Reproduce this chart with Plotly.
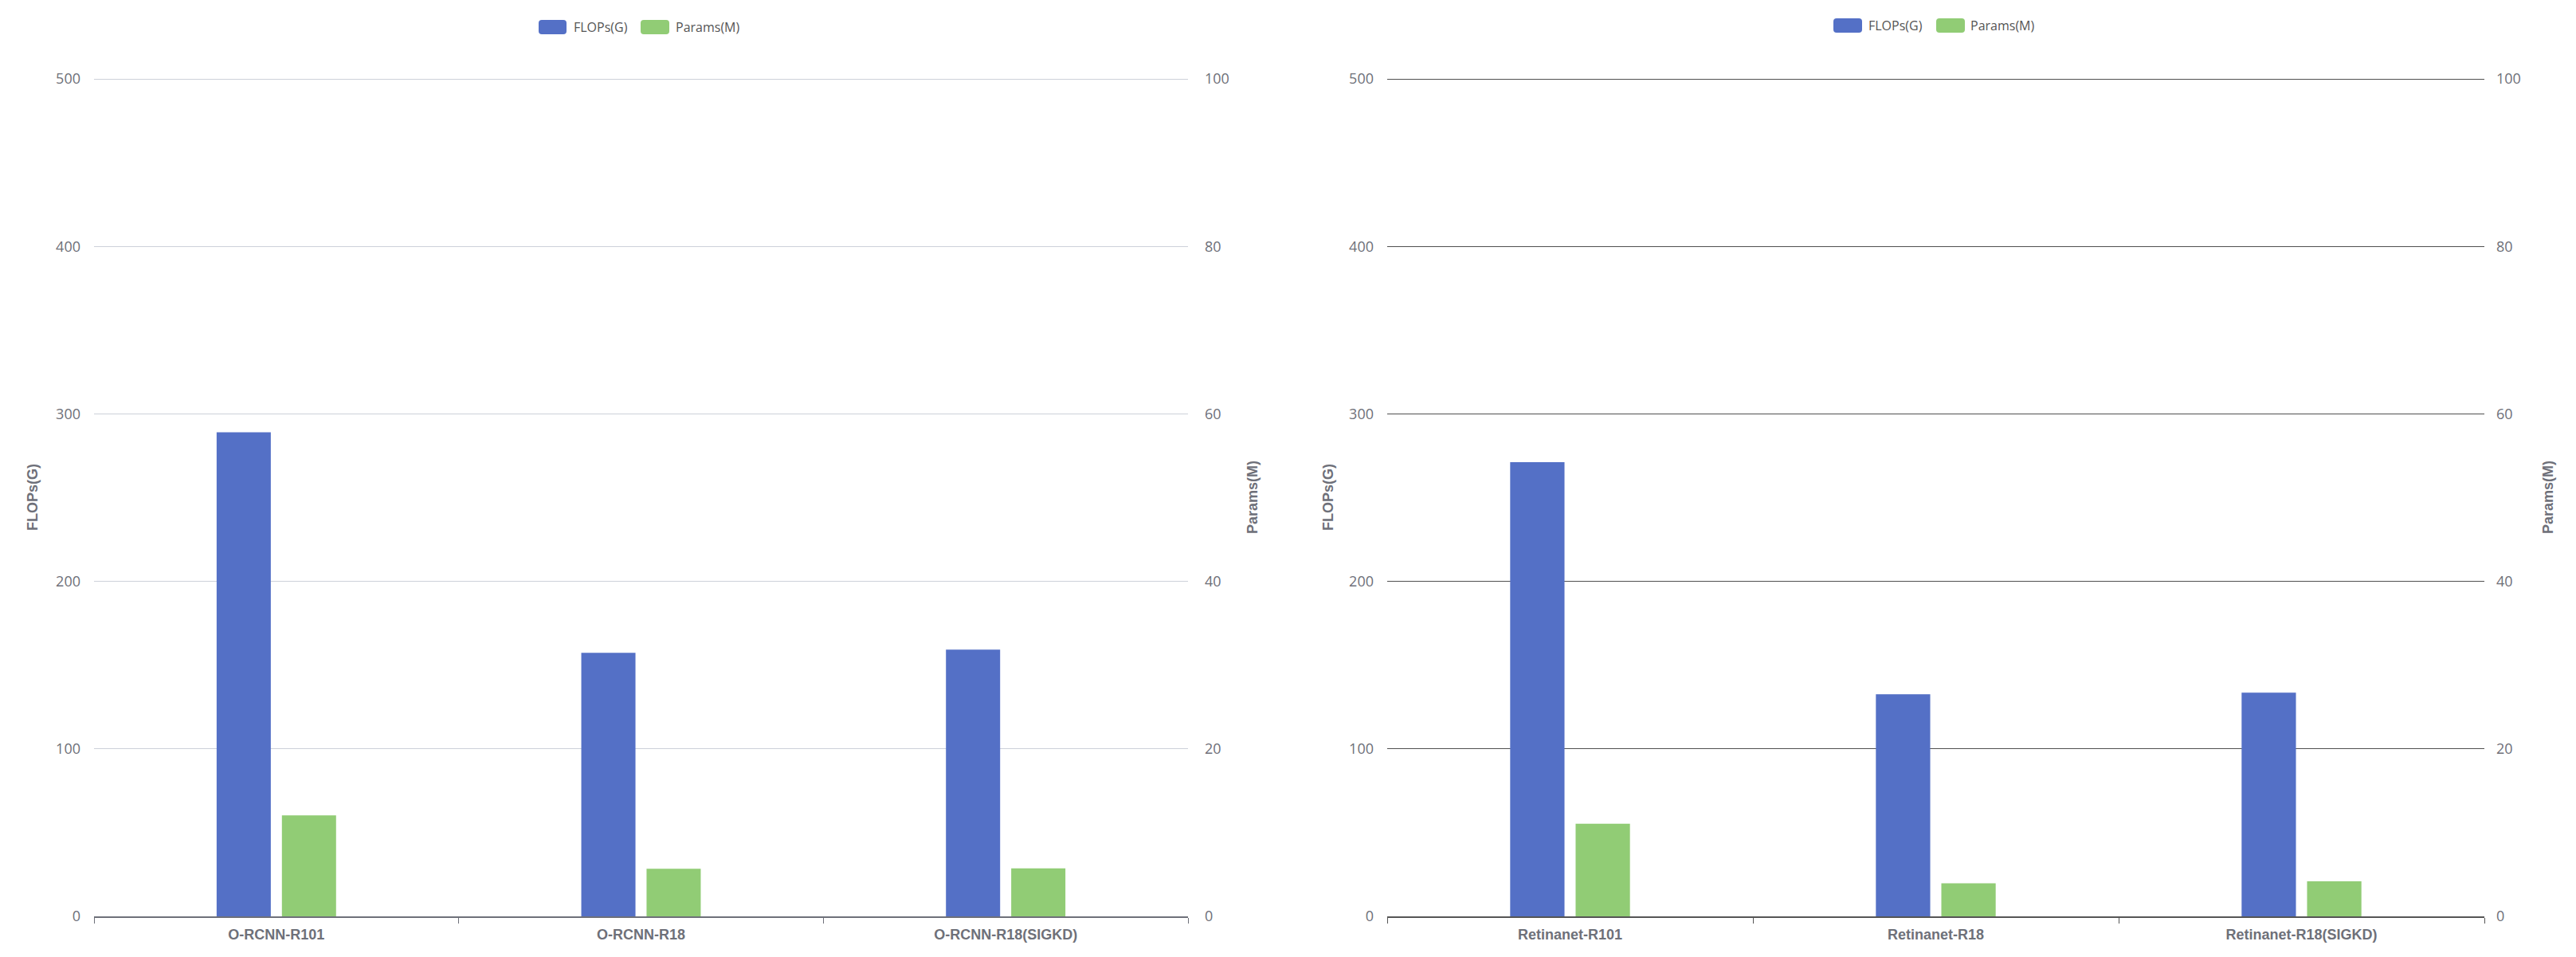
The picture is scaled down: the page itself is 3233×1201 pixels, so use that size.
import plotly.graph_objects as go

# ---- data ----
cats_left = ["O-RCNN-R101", "O-RCNN-R18", "O-RCNN-R18(SIGKD)"]
flops_left = [289.0, 157.3, 159.2]
params_left = [60.3, 28.4, 28.7]

cats_right = ["Retinanet-R101", "Retinanet-R18", "Retinanet-R18(SIGKD)"]
flops_right = [271.2, 132.6, 133.6]
params_right = [55.3, 19.8, 20.9]

left_ticks = [0, 100, 200, 300, 400, 500]
right_ticks = [0, 20, 40, 60, 80, 100]
series_names = ["FLOPs(G)", "Params(M)"]

BLUE = "#5470c6"
GREEN = "#91cc75"
AXIS = "#6e7079"

W, H = 3233, 1201
OFF = 8  # page body margin
FW, FH = W - 2 * OFF, H - 2 * OFF
def fx(v): return (v - OFF) / FW
def fy(v): return 1 - (v - OFF) / FH

Y0, Y500 = 1150, 99
LMAX = 503.0                       # small headroom so the 500 gridline is drawn
RMAX = LMAX / 5
YTOP = Y0 - (Y0 - Y500) * LMAX / 500
YD = [fy(Y0), fy(YTOP)]
XD1 = [fx(118), fx(1491)]
XD2 = [fx(1741), fx(3118)]

fig = go.Figure()
fig.add_trace(go.Bar(name=series_names[0], x=cats_left, y=flops_left, marker_color=BLUE,
                     marker_line_width=0, xaxis="x", yaxis="y", showlegend=False))
fig.add_trace(go.Bar(name=series_names[1], x=cats_left, y=params_left, marker_color=GREEN,
                     marker_line_width=0, xaxis="x", yaxis="y", showlegend=False))
fig.add_trace(go.Scatter(x=[cats_left[0]], y=[None], xaxis="x", yaxis="y2", showlegend=False,
                         hoverinfo="skip", mode="markers"))
fig.add_trace(go.Bar(name=series_names[0], x=cats_right, y=flops_right, marker_color=BLUE,
                     marker_line_width=0, xaxis="x2", yaxis="y3", showlegend=False))
fig.add_trace(go.Bar(name=series_names[1], x=cats_right, y=params_right, marker_color=GREEN,
                     marker_line_width=0, xaxis="x2", yaxis="y3", showlegend=False))
fig.add_trace(go.Scatter(x=[cats_right[0]], y=[None], xaxis="x2", yaxis="y4", showlegend=False,
                         hoverinfo="skip", mode="markers"))

tickfont = dict(family="Open Sans, sans-serif", size=18, color=AXIS)
catfont = dict(family="Liberation Sans, Arial, sans-serif", size=18, color=AXIS, weight="bold")

def xax(domain, anchor, linecolor):
    return dict(domain=domain, anchor=anchor, type="category", showgrid=False,
                showline=True, linecolor=linecolor, linewidth=2, ticks="outside",
                tickson="boundaries", ticklen=7, tickcolor=linecolor, tickwidth=1,
                tickfont=catfont, ticklabelstandoff=5, automargin=False, fixedrange=True)

def yax(domain, anchor, rng, tv, gridcolor, side="left", overlaying=None, showgrid=True, standoff=16):
    d = dict(domain=domain, anchor=anchor, range=rng, tickvals=tv, showgrid=showgrid,
             gridcolor=gridcolor, gridwidth=1, zeroline=False, showline=False, ticks="",
             tickfont=tickfont, side=side, ticklabelstandoff=standoff, automargin=False,
             fixedrange=True)
    if overlaying:
        d["overlaying"] = overlaying
    return d

fig.update_layout(
    width=FW, height=FH,
    margin=dict(l=0, r=0, t=0, b=0),
    paper_bgcolor="white", plot_bgcolor="white",
    barmode="group", bargap=0.642, bargroupgap=0.17,
    showlegend=False,
    xaxis=xax(XD1, "y", AXIS),
    xaxis2=xax(XD2, "y3", "#555555"),
    yaxis=yax(YD, "x", [0, LMAX], left_ticks, "#cdd1d9", standoff=16),
    yaxis2=yax(YD, "x", [0, RMAX], right_ticks, "#cdd1d9", side="right", overlaying="y",
               showgrid=False, standoff=20),
    yaxis3=yax(YD, "x2", [0, LMAX], left_ticks, "#505050", standoff=16),
    yaxis4=yax(YD, "x2", [0, RMAX], right_ticks, "#505050", side="right", overlaying="y3",
               showgrid=False, standoff=14),
)

# legends: rounded swatches + text (echarts style)
def rrect(x0, y0, x1, y1, r=4):
    X = lambda v: fx(v)
    Y = lambda v: fy(v)
    return (f"M {X(x0 + r)},{Y(y0)} L {X(x1 - r)},{Y(y0)} Q {X(x1)},{Y(y0)} {X(x1)},{Y(y0 + r)} "
            f"L {X(x1)},{Y(y1 - r)} Q {X(x1)},{Y(y1)} {X(x1 - r)},{Y(y1)} "
            f"L {X(x0 + r)},{Y(y1)} Q {X(x0)},{Y(y1)} {X(x0)},{Y(y1 - r)} "
            f"L {X(x0)},{Y(y0 + r)} Q {X(x0)},{Y(y0)} {X(x0 + r)},{Y(y0)} Z")

legend_items = [
    # (swatch x0, x1, text x, y center, color, label)
    (676, 711, 718, 34, BLUE, series_names[0]),
    (804, 840, 846, 34, GREEN, series_names[1]),
    (2301, 2337, 2343, 32, BLUE, series_names[0]),
    (2430, 2466, 2471, 32, GREEN, series_names[1]),
]
for sx0, sx1, tx, cy, col, lab in legend_items:
    fig.add_shape(type="path", xref="paper", yref="paper",
                  path=rrect(sx0, cy - 9, sx1, cy + 9), fillcolor=col, line_width=0)
    fig.add_annotation(x=fx(tx), y=fy(cy), xref="paper", yref="paper", text=lab,
                       showarrow=False, xanchor="left", yanchor="middle",
                       font=dict(family="Open Sans, sans-serif", size=16, color="#555555"))

title_font = dict(family="Liberation Sans, Arial, sans-serif", size=18, color=AXIS, weight="bold")
for xpos, text in [(41, series_names[0]), (1572, series_names[1]),
                   (1667, series_names[0]), (3198, series_names[1])]:
    fig.add_annotation(x=fx(xpos), y=fy(624), xref="paper", yref="paper", text=text,
                       textangle=-90, showarrow=False, font=title_font,
                       xanchor="center", yanchor="middle")

fig.write_html("out.html")
